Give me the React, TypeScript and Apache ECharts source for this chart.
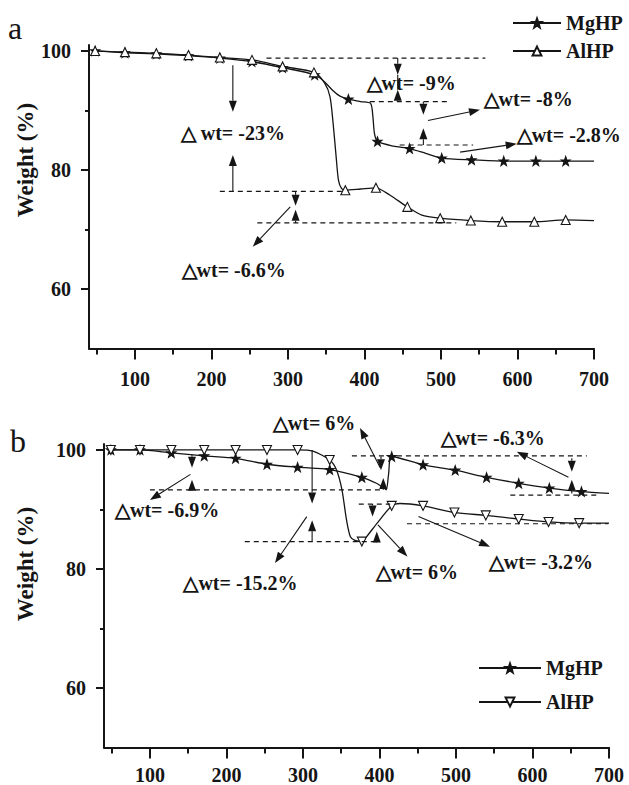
import React, { useEffect, useRef } from 'react';
import * as echarts from 'echarts';

const FONT = '"Liberation Serif", "Times New Roman", serif';
const INK = '#151515';

// ---- Panel a data (temperature °C, weight %) ----
const aMgHP: [number, number][] = [
  [48, 100], [87, 99.7], [128, 99.5], [170, 99.2], [211, 98.8], [253, 98.2], [293, 97.2], [335, 96.0],
  [348, 94.8], [359, 93.3], [368, 92.4], [379, 91.9], [395, 91.5], [408, 91.2], [411, 89.0], [413, 86.2],
  [417, 84.8], [438, 84.0], [459, 83.6], [480, 82.8], [501, 82.0], [540, 81.7], [582, 81.5], [624, 81.5],
  [663, 81.5], [700, 81.5],
];
const aMgHPMarks = [48, 87, 128, 170, 211, 253, 293, 335, 379, 417, 459, 501, 540, 582, 624, 663];
const aAlHP: [number, number][] = [
  [48, 100], [87, 99.8], [128, 99.6], [170, 99.3], [211, 98.9], [253, 98.5], [293, 97.4], [334, 96.4],
  [348, 94.6], [355, 92.3], [359, 87.9], [363, 82.2], [366, 78.3], [370, 76.9], [375, 76.6], [395, 76.8],
  [415, 77.0], [433, 75.8], [456, 73.8], [475, 72.4], [499, 71.9], [539, 71.5], [580, 71.3], [622, 71.3],
  [663, 71.6], [700, 71.5],
];
const aAlHPMarks = [48, 87, 128, 170, 211, 253, 293, 334, 375, 415, 456, 499, 539, 580, 622, 663];

// ---- Panel b data ----
const bMgHP: [number, number][] = [
  [49, 100], [87, 100], [128, 99.5], [171, 99.0], [212, 98.6], [253, 97.6], [293, 97.1], [335, 96.7],
  [377, 95.4], [396, 94.4], [406, 93.6], [409, 93.3], [412, 96.0], [416, 98.9], [457, 97.5], [499, 96.6],
  [540, 95.4], [582, 94.4], [622, 93.6], [664, 93.0], [700, 92.7],
];
const bMgHPMarks = [49, 87, 128, 171, 212, 253, 293, 335, 377, 416, 457, 499, 540, 582, 622, 664];
const bAlHP: [number, number][] = [
  [49, 100], [87, 100], [128, 100], [171, 100], [212, 100], [253, 100], [293, 100], [313, 99.8],
  [335, 98.3], [344, 96.6], [351, 93.3], [357, 88.2], [362, 85.4], [368, 84.8], [377, 84.6], [383, 85.4],
  [397, 87.7], [416, 90.6], [427, 91.0], [457, 90.6], [498, 89.5], [539, 89.0], [582, 88.4], [621, 87.9],
  [661, 87.7], [700, 87.7],
];
const bAlHPMarks = [49, 87, 128, 171, 212, 253, 293, 335, 377, 416, 457, 498, 539, 582, 621, 661];

// ---- Axis ticks ----
const xMajor = [100, 200, 300, 400, 500, 600, 700];
const xMinor = [50, 150, 250, 350, 450, 550, 650];
const yMajor = [60, 80, 100];
const yMinor = [70, 90];

// ---- Annotations (data coordinates) ----
const aDashed = [
  [272, 98.8, 558, 98.8], [211, 76.4, 372, 76.4], [260, 71.1, 520, 71.1],
  [407, 91.5, 512, 91.5], [446, 84.2, 542, 84.2],
];
const aArrows = [
  [228, 97.6, 228, 89.8], [228, 76.4, 228, 82.5],
  [310, 76.4, 310, 74.0], [310, 71.1, 310, 73.3], [303, 73.8, 254, 67.1],
  [443.5, 98.8, 443.5, 96.0], [443.5, 91.5, 443.5, 93.5],
  [477, 91.5, 477, 89.3], [477, 84.2, 477, 87.0], [483, 88.3, 551, 90.1],
  [525, 83.0, 599, 84.4],
];
const aPlain = [[443.5, 96.0, 443.5, 93.5]];
const aTexts: [string, number, number][] = [
  ['△ wt= -23%', 228, 86.2], ['△wt= -6.6%', 229, 63.2], ['△wt= -9%', 461, 94.6],
  ['△wt= -8%', 614, 91.9], ['△wt= -2.8%', 667, 85.9],
];

const bDashed = [
  [364, 99.0, 671, 99.0], [100, 93.3, 405, 93.3], [224, 84.6, 398, 84.6],
  [373, 90.9, 414, 90.9], [436, 87.6, 699, 87.6], [571, 92.4, 688, 92.4],
];
const bArrows = [
  [155, 99.2, 155, 97.0], [155, 93.3, 155, 95.0], [153, 95.9, 100, 91.6],
  [312, 100, 312, 91.0], [312, 84.6, 312, 88.2], [305, 88.8, 263.5, 81.0],
  [402, 98.9, 402, 96.6], [405, 93.3, 405, 95.3], [401, 97.0, 374.6, 103.7],
  [391, 90.9, 391, 88.8], [396.5, 84.6, 396.5, 86.3], [398, 87.4, 436.5, 82.1],
  [451, 88.8, 544.6, 83.75],
  [651.4, 98.6, 651.4, 96.35], [651.4, 92.7, 651.4, 95.0], [647, 95.4, 579.5, 99.7],
];
const bTexts: [string, number, number][] = [
  ['△wt= 6%', 314.5, 104.5], ['△wt= -6.3%', 548, 102.0], ['△wt= -6.9%', 122.4, 89.9],
  ['△wt= -15.2%', 218.4, 77.6], ['△wt= 6%', 448.8, 79.5], ['△wt= -3.2%', 611, 81.1],
];

const STAR =
  'path://M0,-10 L2.35,-3.24 L9.51,-3.09 L3.8,1.24 L5.88,8.09 L0,4 L-5.88,8.09 L-3.8,1.24 L-9.51,-3.09 L-2.35,-3.24 Z';

const labelStyle = { fontFamily: FONT, fontWeight: 'bold' as const, fontSize: 20, color: INK };

function makeSeries(
  name: string, data: [number, number][], marks: number[], axis: number,
  symbol: string, rotate: number, fill: string,
) {
  return {
    type: 'line', name, xAxisIndex: axis, yAxisIndex: axis,
    data: data.map(([x, y]) => (marks.includes(x) ? { value: [x, y] } : { value: [x, y], symbol: 'none' })),
    symbol, symbolSize: 9, symbolRotate: rotate, showSymbol: true, showAllSymbol: true,
    smooth: 0.25,
    lineStyle: { color: INK, width: 1.3 },
    itemStyle: { color: fill, borderColor: INK, borderWidth: 1.1 },
    z: 3,
  };
}

function xAxes(grid: number, margin: number) {
  return [
    {
      type: 'value', gridIndex: grid, min: 40, max: 700, position: 'bottom',
      axisLine: { show: true, lineStyle: { color: INK, width: 2 } },
      axisTick: { show: true, customValues: xMajor, length: 11, lineStyle: { color: INK, width: 2 } },
      axisLabel: { show: true, customValues: xMajor, margin, ...labelStyle },
      splitLine: { show: false },
    },
    {
      type: 'value', gridIndex: grid, min: 40, max: 700, position: 'bottom',
      axisLine: { show: false },
      axisTick: { show: true, customValues: xMinor, length: 6, lineStyle: { color: INK, width: 2 } },
      axisLabel: { show: false, customValues: xMinor },
      splitLine: { show: false },
    },
  ];
}

function yAxes(grid: number) {
  return [
    {
      type: 'value', gridIndex: grid, min: 50, max: 101, position: 'left',
      axisLine: { show: true, lineStyle: { color: INK, width: 2 } },
      axisTick: { show: true, customValues: yMajor, length: 8, lineStyle: { color: INK, width: 2 } },
      axisLabel: { show: true, customValues: yMajor, margin: 18, ...labelStyle },
      splitLine: { show: false },
    },
    {
      type: 'value', gridIndex: grid, min: 50, max: 101, position: 'left',
      axisLine: { show: false },
      axisTick: { show: true, customValues: yMinor, length: 4, lineStyle: { color: INK, width: 2 } },
      axisLabel: { show: false, customValues: yMinor },
      splitLine: { show: false },
    },
  ];
}

export default function App() {
  const ref = useRef<HTMLDivElement>(null);
  useEffect(() => {
    const chart = echarts.init(ref.current!, null, { renderer: 'svg' });
    const legendText = { fontFamily: FONT, fontWeight: 'bold' as const, fontSize: 20, color: INK };
    chart.setOption({
      animation: false,
      backgroundColor: '#fff',
      grid: [
        { left: 89, top: 45, width: 505, height: 303.5, containLabel: false, outerBoundsMode: 'none' },
        { left: 104, top: 444, width: 505, height: 303.5, containLabel: false, outerBoundsMode: 'none' },
      ],
      xAxis: [...xAxes(0, 20), ...xAxes(1, 17)],
      yAxis: [...yAxes(0), ...yAxes(1)],
      legend: [
        {
          data: ['MgHP', 'AlHP'], orient: 'vertical', left: 507, top: 8, itemWidth: 48, itemHeight: 11,
          itemGap: 8, textStyle: legendText, selectedMode: false,
        },
        {
          data: ['MgHP b', 'AlHP b'], orient: 'vertical', left: 473, top: 653, itemWidth: 62, itemHeight: 11,
          itemGap: 14, textStyle: legendText, selectedMode: false,
          formatter: (n: string) => n.split(' ')[0],
        },
      ],
      series: [
        makeSeries('MgHP', aMgHP, aMgHPMarks, 0, STAR, 0, INK),
        makeSeries('AlHP', aAlHP, aAlHPMarks, 0, 'triangle', 0, '#fff'),
        makeSeries('MgHP b', bMgHP, bMgHPMarks, 2, STAR, 0, INK),
        makeSeries('AlHP b', bAlHP, bAlHPMarks, 2, 'triangle', 180, '#fff'),
      ],
    });

    const px = (si: number, x: number, y: number) =>
      chart.convertToPixel({ seriesIndex: si }, [x, y]) as number[];
    const g: any[] = [];
    const addDash = (si: number, d: number[]) => {
      const p1 = px(si, d[0], d[1]);
      const p2 = px(si, d[2], d[3]);
      g.push({ type: 'line', z: 10, shape: { x1: p1[0], y1: p1[1], x2: p2[0], y2: p2[1] },
        style: { stroke: INK, lineWidth: 1.2, lineDash: [5, 4] } });
    };
    const addPlain = (si: number, d: number[]) => {
      const p1 = px(si, d[0], d[1]);
      const p2 = px(si, d[2], d[3]);
      g.push({ type: 'line', z: 10, shape: { x1: p1[0], y1: p1[1], x2: p2[0], y2: p2[1] },
        style: { stroke: INK, lineWidth: 1.1 } });
    };
    const addArrow = (si: number, d: number[]) => {
      const p1 = px(si, d[0], d[1]);
      const p2 = px(si, d[2], d[3]);
      const dx = p2[0] - p1[0], dy = p2[1] - p1[1];
      const len = Math.hypot(dx, dy) || 1;
      const ux = dx / len, uy = dy / len;
      const hl = 11, hw = 4;
      const bx = p2[0] - ux * hl, by = p2[1] - uy * hl;
      g.push({ type: 'line', z: 10, shape: { x1: p1[0], y1: p1[1], x2: bx, y2: by },
        style: { stroke: INK, lineWidth: 1.1 } });
      g.push({ type: 'polygon', z: 10, shape: { points: [
        [p2[0], p2[1]], [bx - uy * hw, by + ux * hw], [bx + uy * hw, by - ux * hw]] },
        style: { fill: INK } });
    };
    const addText = (si: number, t: [string, number, number]) => {
      const p = px(si, t[1], t[2]);
      g.push({ type: 'text', z: 11, x: p[0], y: p[1], style: {
        text: t[0], fill: INK, fontFamily: FONT, fontWeight: 'bold', fontSize: 20,
        align: 'center', verticalAlign: 'middle', textAlign: 'center', textVerticalAlign: 'middle' } });
    };
    aDashed.forEach((d) => addDash(0, d));
    aPlain.forEach((d) => addPlain(0, d));
    aArrows.forEach((d) => addArrow(0, d));
    aTexts.forEach((t) => addText(0, t));
    bDashed.forEach((d) => addDash(2, d));
    bArrows.forEach((d) => addArrow(2, d));
    bTexts.forEach((t) => addText(2, t));

    // panel letters and axis names
    g.push({ type: 'text', z: 11, x: 8, y: 44, style: { text: 'a', fill: INK, fontFamily: FONT, fontSize: 32,
      align: 'left', verticalAlign: 'bottom', textAlign: 'left', textVerticalAlign: 'bottom' } });
    g.push({ type: 'text', z: 11, x: 10, y: 457, style: { text: 'b', fill: INK, fontFamily: FONT, fontSize: 32,
      align: 'left', verticalAlign: 'bottom', textAlign: 'left', textVerticalAlign: 'bottom' } });
    [160, 564].forEach((cy) => {
      g.push({ type: 'text', z: 11, x: 25, y: cy, rotation: Math.PI / 2, style: {
        text: 'Weight (%)', fill: INK, fontFamily: FONT, fontWeight: 'bold', fontSize: 23,
        align: 'center', verticalAlign: 'middle', textAlign: 'center', textVerticalAlign: 'middle' } });
    });
    chart.setOption({ graphic: g });
    return () => chart.dispose();
  }, []);
  return (
    <div
      ref={ref}
      style={{ position: 'fixed', left: 0, top: 0, width: 629, height: 785, background: '#fff' }}
    />
  );
}
